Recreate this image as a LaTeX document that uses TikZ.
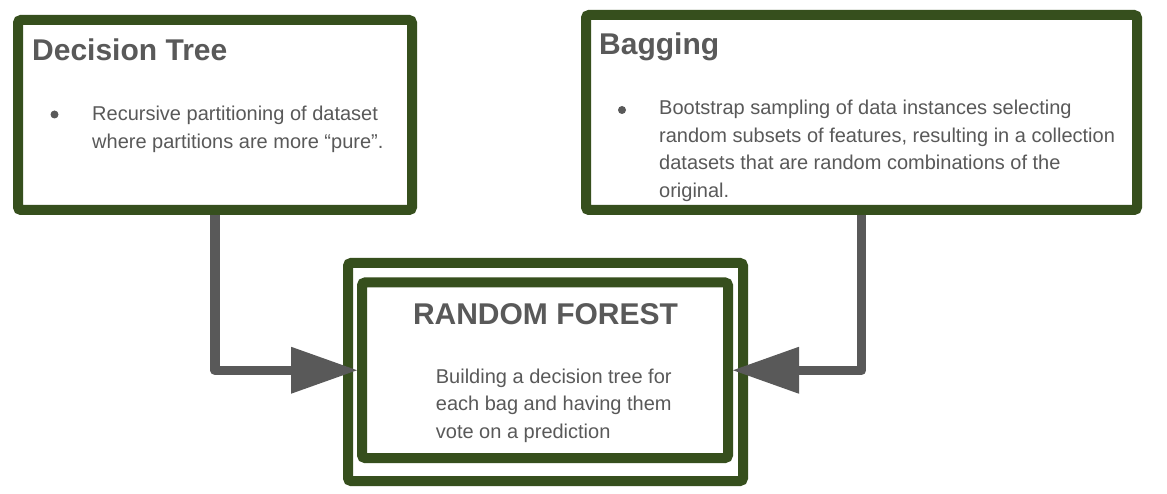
\documentclass[tikz,border=0pt]{standalone}
\usepackage{fontspec}
\setmainfont{Liberation Sans}
\usetikzlibrary{arrows.meta}
\definecolor{boxgreen}{HTML}{364F1D}
\definecolor{txtgray}{HTML}{595959}
\newcommand{\toplines}[1]{\begin{tabular}[t]{@{}l@{}}#1\end{tabular}}
\begin{document}
\begin{tikzpicture}[x=1pt,y=-1pt,
  box/.style={draw=boxgreen, line width=10pt, rounded corners=3pt, fill=white, inner sep=0pt, rectangle},
  titletxt/.style={font=\fontsize{30}{36}\selectfont\bfseries, text=txtgray, inner sep=0pt},
  bodytxt/.style={font=\fontsize{20}{27.5}\selectfont, text=txtgray, anchor=base west, inner sep=0pt},
  bulletdot/.style={circle, fill=txtgray, minimum size=8pt, inner sep=0pt},
  conn/.style={draw=txtgray, line width=9.5pt, line join=round,
    -{Triangle[length=66pt,width=47pt,line width=0pt]}},
]
\useasboundingbox[fill=white] (0,0) rectangle (1167,494);

% boxes
\node[box, minimum width=394pt, minimum height=190pt] (dt) at (215,115) {};
\node[box, minimum width=551pt, minimum height=195pt] (bag) at (861.5,112.5) {};
\node[box, minimum width=395pt, minimum height=218pt] (rfout) at (545.5,372) {};
\node[box, minimum width=366pt, minimum height=175.5pt] (rfin) at (545,370.25) {};

% Decision Tree texts
\node[titletxt, anchor=base west] (dttitle) at (32,61) {Decision Tree};
\node[bulletdot] (dtbul) at (54.5,114.5) {};
\node[bodytxt] (dtbody) at (92,120.7) {\toplines{Recursive partitioning of dataset\\where partitions are more “pure”.}};

% Bagging texts
\node[titletxt, anchor=base west] (bagtitle) at (599,55) {Bagging};
\node[bulletdot] (bagbul) at (622,110) {};
\node[bodytxt] (bagbody) at (659,115) {\toplines{Bootstrap sampling of data instances selecting\\random subsets of features, resulting in a collection\\datasets that are random combinations of the\\original.}};

% Random forest texts
\node[titletxt, anchor=base] (rftitle) at (545.5,324) {RANDOM FOREST};
\node[bodytxt] (rfbody) at (435.7,383.3) {\toplines{Building a decision tree for\\each bag and having them\\vote on a prediction}};

% connectors
\draw[conn] (dt.south) |- (rfin.west);
\draw[conn] (bag.south) |- (rfin.east);
\end{tikzpicture}
\end{document}
